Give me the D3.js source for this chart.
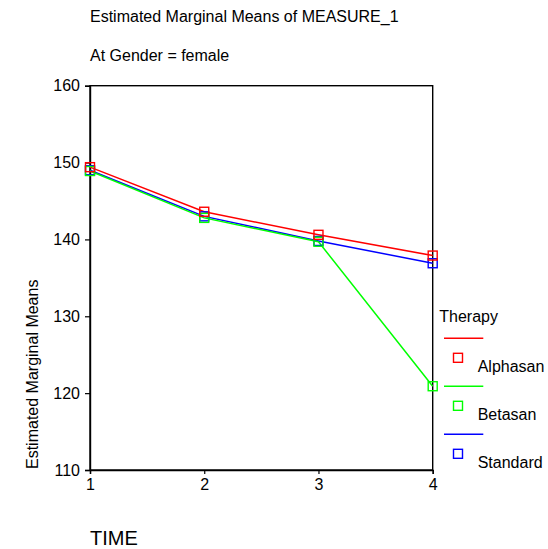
<!DOCTYPE html>
<html>
<head>
<meta charset="utf-8">
<script src="https://cdn.jsdelivr.net/npm/d3@7"></script>
<style>
  html, body { margin: 0; padding: 0; background: #fff; }
  svg { display: block; }
  text { font-family: "Liberation Sans", Arial, sans-serif; fill: #000; }
</style>
</head>
<body>
<svg id="chart" width="548" height="549"></svg>
<script>
const times = [1, 2, 3, 4];
const therapies = ["Alphasan", "Betasan", "Standard"];
const colors = ["#ff0000", "#00ff00", "#0000ff"];
const alphasan = [149.4, 143.6, 140.6, 137.9];
const betasan = [148.9, 142.8, 139.7, 120.9];
const standard = [149.0, 143.0, 139.8, 136.9];
const yTicks = [110, 120, 130, 140, 150, 160];
const titleText = "Estimated Marginal Means of MEASURE_1";
const subtitleText = "At Gender = female";
const yLabel = "Estimated Marginal Means";
const xLabel = "TIME";
const legendTitle = "Therapy";

const seriesValues = [alphasan, betasan, standard];
const series = therapies.map((name, i) => ({
  name, color: colors[i],
  points: times.map((t, j) => ({ t, v: seriesValues[i][j] }))
}));

const FS = "16px";
const svg = d3.select("#chart");
const x = d3.scaleLinear().domain([1, 4]).range([90, 432.7]);
const y = d3.scaleLinear().domain([110, 160]).range([470, 85.7]);

// titles
svg.append("text").attr("x", 90).attr("y", 21.7).style("font-size", FS).text(titleText);
svg.append("text").attr("x", 90).attr("y", 61).style("font-size", FS).text(subtitleText);

// frame
svg.append("rect")
  .attr("x", x(1)).attr("y", y(160))
  .attr("width", x(4) - x(1)).attr("height", y(110) - y(160))
  .attr("fill", "none").attr("stroke", "#000").attr("stroke-width", 1.4);

// y axis
const yAxis = d3.axisLeft(y).tickValues(yTicks).tickSize(5).tickPadding(5).tickFormat(d3.format("d"));
const gy = svg.append("g").attr("transform", `translate(${x(1)},0)`).call(yAxis);
gy.select(".domain").attr("stroke-width", 1.4);
gy.selectAll(".tick line").attr("stroke-width", 1.2);
gy.selectAll(".tick text").style("font-size", FS).style("font-family", "'Liberation Sans', Arial, sans-serif").attr("fill", "#000");

// x axis
const xAxis = d3.axisBottom(x).tickValues(times).tickSize(4).tickPadding(5).tickFormat(d3.format("d"));
const gx = svg.append("g").attr("transform", `translate(0,${y(110)})`).call(xAxis);
gx.select(".domain").attr("stroke-width", 1.4);
gx.selectAll(".tick line").attr("stroke-width", 1.2);
gx.selectAll(".tick text").style("font-size", FS).style("font-family", "'Liberation Sans', Arial, sans-serif").attr("fill", "#000");

// axis labels
svg.append("text")
  .attr("transform", `translate(38,469) rotate(-90)`)
  .attr("text-anchor", "start")
  .style("font-size", FS)
  .text(yLabel);
svg.append("text").attr("x", 90).attr("y", 545).style("font-size", "20px").text(xLabel);

// lines
const line = d3.line().x(d => x(d.t)).y(d => y(d.v));
const drawOrder = [2, 1, 0];
const sz = 9;
drawOrder.forEach(i => {
  const s = series[i];
  svg.append("path").datum(s.points)
    .attr("d", line).attr("fill", "none")
    .attr("stroke", s.color).attr("stroke-width", 1.5);
});
drawOrder.forEach(i => {
  const s = series[i];
  svg.selectAll(null).data(s.points).enter().append("rect")
    .attr("x", d => x(d.t) - sz / 2).attr("y", d => y(d.v) - sz / 2)
    .attr("width", sz).attr("height", sz)
    .attr("fill", "none").attr("stroke", s.color).attr("stroke-width", 1.4);
});

// legend
svg.append("text").attr("x", 439.3).attr("y", 321.7).style("font-size", FS).text(legendTitle);
series.forEach((s, i) => {
  const base = 338.3 + i * 48;
  svg.append("line").attr("x1", 444).attr("x2", 483.3).attr("y1", base).attr("y2", base)
    .attr("stroke", s.color).attr("stroke-width", 1.5);
  svg.append("rect").attr("x", 458 - sz / 2).attr("y", base + 19.5 - sz / 2)
    .attr("width", sz).attr("height", sz)
    .attr("fill", "none").attr("stroke", s.color).attr("stroke-width", 1.4);
  svg.append("text").attr("x", 477.7).attr("y", base + 33.3).style("font-size", FS).text(s.name);
});
</script>
</body>
</html>
